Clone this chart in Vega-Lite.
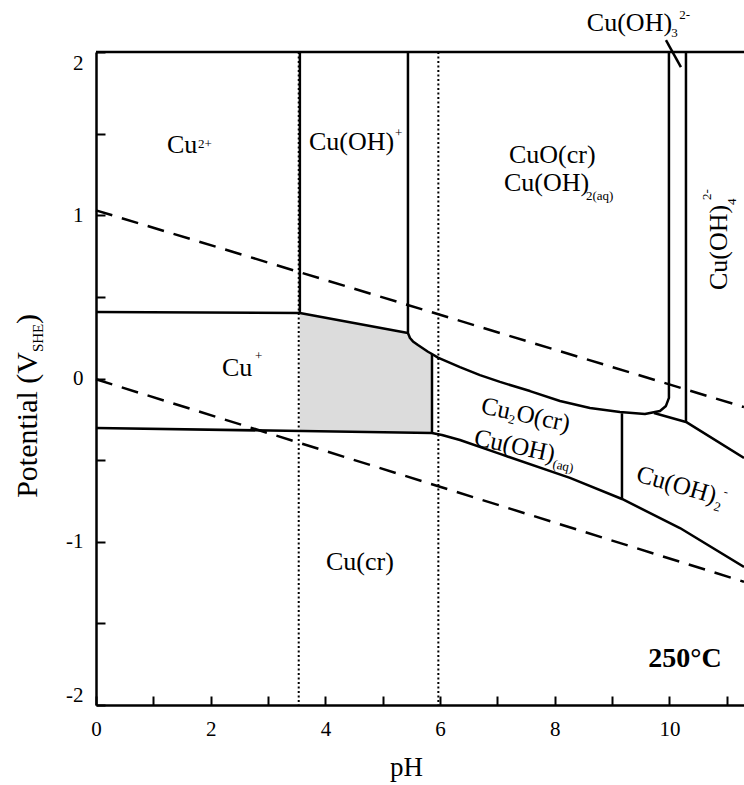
{
  "$schema": "https://vega.github.io/schema/vega-lite/v6.json",
  "width": 648,
  "height": 653,
  "autosize": {"type": "none"},
  "padding": {"left": 96, "top": 52, "right": 0, "bottom": 80},
  "config": {"view": {"stroke": null}, "text": {"font": "Liberation Serif, Times New Roman, serif", "color": "black"}},
  "datasets": {
    "grey": [
      {"x": 3.555, "y": 0.401, "y2": -0.322},
      {"x": 5.44, "y": 0.279, "y2": -0.332},
      {"x": 5.475, "y": 0.248, "y2": -0.332},
      {"x": 5.527, "y": 0.227, "y2": -0.333},
      {"x": 5.614, "y": 0.205, "y2": -0.333},
      {"x": 5.789, "y": 0.164, "y2": -0.334},
      {"x": 5.859, "y": 0.15, "y2": -0.334}
    ],
    "dotted": [
      {"id": "d1", "o": 1, "x": 3.535, "y": 2},
      {"id": "d1", "o": 2, "x": 3.535, "y": -2},
      {"id": "d2", "o": 1, "x": 5.97, "y": 2},
      {"id": "d2", "o": 2, "x": 5.97, "y": -2}
    ],
    "dashed": [
      {"id": "o2", "o": 1, "x": 0, "y": 1.03},
      {"id": "o2", "o": 2, "x": 11.3, "y": -0.175},
      {"id": "h2", "o": 1, "x": 0, "y": -0.005},
      {"id": "h2", "o": 2, "x": 11.3, "y": -1.245}
    ],
    "solid": [
      {"id": "A", "o": 1, "x": 0, "y": 0.407},
      {"id": "A", "o": 2, "x": 3.555, "y": 0.401},
      {"id": "B", "o": 1, "x": 3.555, "y": 2},
      {"id": "B", "o": 2, "x": 3.555, "y": 0.401},
      {"id": "C", "o": 1, "x": 3.555, "y": 0.401},
      {"id": "C", "o": 2, "x": 5.44, "y": 0.279},
      {"id": "D", "o": 1, "x": 5.44, "y": 2},
      {"id": "D", "o": 2, "x": 5.44, "y": 0.279},
      {"id": "D", "o": 3, "x": 5.475, "y": 0.248},
      {"id": "D", "o": 4, "x": 5.527, "y": 0.227},
      {"id": "D", "o": 5, "x": 5.614, "y": 0.205},
      {"id": "D", "o": 6, "x": 5.789, "y": 0.164},
      {"id": "D", "o": 7, "x": 5.859, "y": 0.15},
      {"id": "D", "o": 8, "x": 5.963, "y": 0.128},
      {"id": "D", "o": 9, "x": 6.347, "y": 0.07},
      {"id": "D", "o": 10, "x": 6.696, "y": 0.021},
      {"id": "D", "o": 11, "x": 7.045, "y": -0.021},
      {"id": "D", "o": 12, "x": 7.568, "y": -0.077},
      {"id": "D", "o": 13, "x": 8.091, "y": -0.138},
      {"id": "D", "o": 14, "x": 8.614, "y": -0.181},
      {"id": "D", "o": 15, "x": 9.137, "y": -0.205},
      {"id": "D", "o": 16, "x": 9.573, "y": -0.217},
      {"id": "D", "o": 17, "x": 9.835, "y": -0.199},
      {"id": "D", "o": 18, "x": 9.939, "y": -0.168},
      {"id": "D", "o": 19, "x": 9.991, "y": -0.119},
      {"id": "D", "o": 20, "x": 9.991, "y": -0.089},
      {"id": "D", "o": 21, "x": 9.991, "y": 2},
      {"id": "E", "o": 1, "x": 9.73, "y": -0.211},
      {"id": "E", "o": 2, "x": 10.288, "y": -0.266},
      {"id": "E", "o": 3, "x": 11.3, "y": -0.487},
      {"id": "F", "o": 1, "x": 10.288, "y": 2},
      {"id": "F", "o": 2, "x": 10.288, "y": -0.266},
      {"id": "G", "o": 1, "x": 9.172, "y": -0.213},
      {"id": "G", "o": 2, "x": 9.172, "y": -0.738},
      {"id": "H", "o": 1, "x": 0, "y": -0.303},
      {"id": "H", "o": 2, "x": 5.859, "y": -0.334},
      {"id": "H", "o": 3, "x": 6.033, "y": -0.346},
      {"id": "H", "o": 4, "x": 6.347, "y": -0.377},
      {"id": "H", "o": 5, "x": 7.045, "y": -0.462},
      {"id": "H", "o": 6, "x": 8.265, "y": -0.609},
      {"id": "H", "o": 7, "x": 9.172, "y": -0.738},
      {"id": "H", "o": 8, "x": 10.183, "y": -0.916},
      {"id": "H", "o": 9, "x": 11.3, "y": -1.155},
      {"id": "I", "o": 1, "x": 5.859, "y": 0.15},
      {"id": "I", "o": 2, "x": 5.859, "y": -0.334},
      {"id": "J", "o": 1, "x": 9.939, "y": 2.073},
      {"id": "J", "o": 2, "x": 10.2, "y": 1.908},
      {"id": "K", "o": 1, "x": 0, "y": 2},
      {"id": "K", "o": 2, "x": 11.3, "y": 2}
    ],
    "big": [
      {"t": "Cu", "x": 1.238, "y": 1.381},
      {"t": "Cu(OH)", "x": 3.714, "y": 1.4},
      {"t": "CuO(cr)", "x": 7.201, "y": 1.32},
      {"t": "Cu(OH)", "x": 7.114, "y": 1.149},
      {"t": "Cu", "x": 2.197, "y": 0.015},
      {"t": "Cu(cr)", "x": 4.01, "y": -1.173},
      {"t": "Cu(OH)", "x": 8.56, "y": 2.129}
    ],
    "small": [
      {"t": "2+", "x": 1.779, "y": 1.412},
      {"t": "+", "x": 5.214, "y": 1.479},
      {"t": "2(aq)", "x": 8.544, "y": 1.093},
      {"t": "+", "x": 2.772, "y": 0.113},
      {"t": "3", "x": 10.03, "y": 2.09},
      {"t": "2-", "x": 10.17, "y": 2.2}
    ],
    "tilt12": [
      {"t": "Cu", "x": 6.696, "y": -0.211},
      {"t": "O(cr)", "x": 7.31, "y": -0.257},
      {"t": "Cu(OH)", "x": 6.574, "y": -0.407}
    ],
    "tilt12s": [
      {"t": "2", "x": 7.177, "y": -0.272},
      {"t": "(aq)", "x": 7.951, "y": -0.548}
    ],
    "tilt16": [
      {"t": "Cu(OH)", "x": 9.398, "y": -0.628}
    ],
    "tilt16s": [
      {"t": "2", "x": 10.758, "y": -0.805},
      {"t": "-", "x": 10.933, "y": -0.714}
    ],
    "vert": [
      {"t": "Cu(OH)", "x": 11.003, "y": 0.542}
    ],
    "verts": [
      {"t": "4", "x": 11.16, "y": 1.063},
      {"t": "2-", "x": 10.724, "y": 1.094}
    ],
    "ytitleR": [
      {"t": "Potential (V", "x": -1.029, "y": 0.162}
    ],
    "ytitleL": [
      {"t": ")", "x": -1.029, "y": 0.334}
    ],
    "ytitleS": [
      {"t": "SHE", "x": -0.924, "y": 0.162}
    ],
    "temp": [
      {"t": "250°C", "x": 10.27, "y": -1.767}
    ]
  },
  "encoding": {
    "x": {
      "field": "x", "type": "quantitative",
      "scale": {"domain": [0, 11.3], "nice": false, "zero": false},
      "axis": {
        "values": [0, 1, 2, 3, 4, 5, 6, 7, 8, 9, 10, 11],
        "labelExpr": "datum.value % 2 === 0 ? '' + datum.value : ''",
        "grid": false,
        "domainColor": "black", "domainWidth": 2.5,
        "tickColor": "black", "tickWidth": 2, "tickSize": -9,
        "labelFont": "Liberation Serif, Times New Roman, serif", "labelFontSize": 21, "labelColor": "black",
        "labelPadding": 22, "labelDx": 6, "labelFlush": false,
        "title": "pH", "titleFont": "Liberation Serif, Times New Roman, serif", "titleFontSize": 27,
        "titleFontWeight": "normal", "titleColor": "black",
        "titleX": 310, "titleY": 70, "titleBaseline": "alphabetic", "titleAlign": "center"
      }
    },
    "y": {
      "field": "y", "type": "quantitative",
      "scale": {"domain": [-2, 2], "nice": false, "zero": false},
      "axis": {
        "values": [-2, -1.5, -1, -0.5, 0, 0.5, 1, 1.5, 2],
        "labelExpr": "datum.value % 1 === 0 ? '' + datum.value : ''",
        "grid": false,
        "domainColor": "black", "domainWidth": 2.5,
        "tickColor": "black", "tickWidth": 2, "tickSize": -9,
        "labelFont": "Liberation Serif, Times New Roman, serif", "labelFontSize": 21, "labelColor": "black",
        "labelPadding": 22, "labelFlush": true, "labelFlushOffset": 0,
        "title": null
      }
    }
  },
  "layer": [
    {
      "data": {"name": "grey"},
      "mark": {"type": "area", "fill": "#dcdcdc", "stroke": null},
      "encoding": {"y2": {"field": "y2"}}
    },
    {
      "data": {"name": "dotted"},
      "mark": {"type": "line", "color": "black", "strokeWidth": 2, "strokeDash": [2, 2.5], "strokeCap": "butt"},
      "encoding": {"detail": {"field": "id"}, "order": {"field": "o"}}
    },
    {
      "data": {"name": "dashed"},
      "mark": {"type": "line", "color": "black", "strokeWidth": 2.5, "strokeDash": [17, 10], "strokeCap": "butt"},
      "encoding": {"detail": {"field": "id"}, "order": {"field": "o"}}
    },
    {
      "data": {"name": "solid"},
      "mark": {"type": "line", "color": "black", "strokeWidth": 2.5, "strokeJoin": "round"},
      "encoding": {"detail": {"field": "id"}, "order": {"field": "o"}}
    },
    {
      "data": {"name": "big"},
      "mark": {"type": "text", "fontSize": 26, "align": "left", "baseline": "alphabetic"},
      "encoding": {"text": {"field": "t"}}
    },
    {
      "data": {"name": "small"},
      "mark": {"type": "text", "fontSize": 13, "align": "left", "baseline": "alphabetic"},
      "encoding": {"text": {"field": "t"}}
    },
    {
      "data": {"name": "tilt12"},
      "mark": {"type": "text", "fontSize": 25, "align": "left", "baseline": "alphabetic", "angle": 12},
      "encoding": {"text": {"field": "t"}}
    },
    {
      "data": {"name": "tilt12s"},
      "mark": {"type": "text", "fontSize": 13, "align": "left", "baseline": "alphabetic", "angle": 12},
      "encoding": {"text": {"field": "t"}}
    },
    {
      "data": {"name": "tilt16"},
      "mark": {"type": "text", "fontSize": 25, "align": "left", "baseline": "alphabetic", "angle": 16},
      "encoding": {"text": {"field": "t"}}
    },
    {
      "data": {"name": "tilt16s"},
      "mark": {"type": "text", "fontSize": 13, "align": "left", "baseline": "alphabetic", "angle": 16},
      "encoding": {"text": {"field": "t"}}
    },
    {
      "data": {"name": "vert"},
      "mark": {"type": "text", "fontSize": 26, "align": "left", "baseline": "alphabetic", "angle": 270},
      "encoding": {"text": {"field": "t"}}
    },
    {
      "data": {"name": "verts"},
      "mark": {"type": "text", "fontSize": 13, "align": "left", "baseline": "alphabetic", "angle": 270},
      "encoding": {"text": {"field": "t"}}
    },
    {
      "data": {"name": "ytitleR"},
      "mark": {"type": "text", "fontSize": 30, "align": "right", "baseline": "alphabetic", "angle": 270},
      "encoding": {"text": {"field": "t"}}
    },
    {
      "data": {"name": "ytitleL"},
      "mark": {"type": "text", "fontSize": 30, "align": "left", "baseline": "alphabetic", "angle": 270},
      "encoding": {"text": {"field": "t"}}
    },
    {
      "data": {"name": "ytitleS"},
      "mark": {"type": "text", "fontSize": 15, "align": "left", "baseline": "alphabetic", "angle": 270},
      "encoding": {"text": {"field": "t"}}
    },
    {
      "data": {"name": "temp"},
      "mark": {"type": "text", "fontSize": 28, "fontWeight": "bold", "align": "center", "baseline": "alphabetic"},
      "encoding": {"text": {"field": "t"}}
    }
  ]
}
